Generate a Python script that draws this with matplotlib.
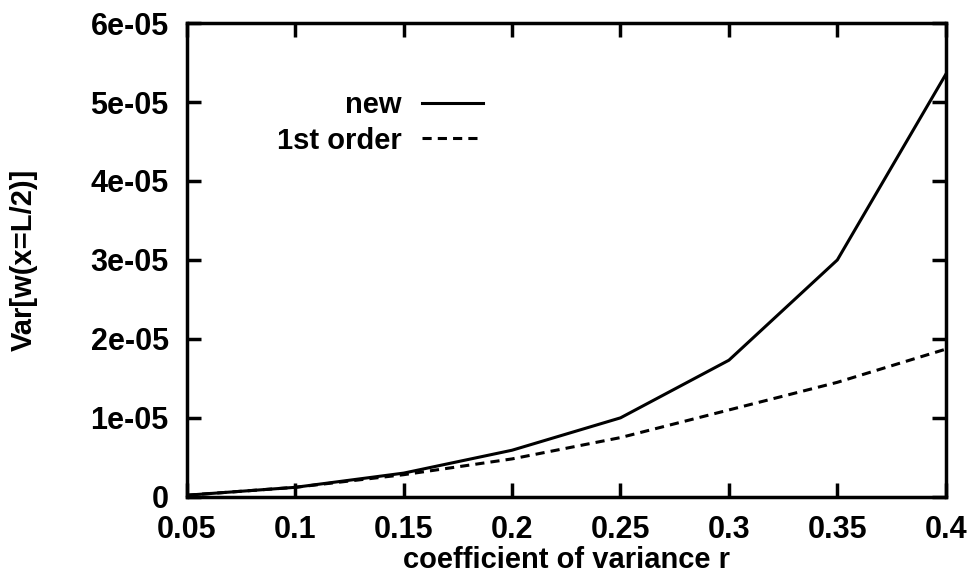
import numpy as np
import matplotlib
matplotlib.use("Agg")
import matplotlib.pyplot as plt

plt.rcParams['font.family'] = ['Liberation Sans', 'DejaVu Sans']
plt.rcParams['font.weight'] = 'bold'
plt.rcParams['axes.labelweight'] = 'bold'

# data
r = [0.05, 0.1, 0.15, 0.2, 0.25, 0.3, 0.35, 0.4]
var_new = [0.2e-6, 1.2e-6, 3.0e-6, 5.9e-6, 1.0e-5, 1.73e-5, 3.0e-5, 5.35e-5]
var_first = [0.2e-6, 1.2e-6, 2.8e-6, 4.8e-6, 7.5e-6, 1.1e-5, 1.45e-5, 1.87e-5]
yticks = [0, 1e-5, 2e-5, 3e-5, 4e-5, 5e-5, 6e-5]
ytick_labels = ["0", "1e-05", "2e-05", "3e-05", "4e-05", "5e-05", "6e-05"]
xticks = [0.05, 0.1, 0.15, 0.2, 0.25, 0.3, 0.35, 0.4]
xtick_labels = ["0.05", "0.1", "0.15", "0.2", "0.25", "0.3", "0.35", "0.4"]

fig = plt.figure(figsize=(9.73, 5.77), dpi=100)
ax = fig.add_axes([0.192, 0.139, 0.780, 0.821])

ax.plot(r, var_new, color="black", linewidth=2.2, label="new")
ax.plot(r, var_first, color="black", linewidth=2.2, linestyle=(0, (3, 2)), label="1st order")

ax.set_xlim(0.05, 0.4)
ax.set_ylim(0, 6e-5)
ax.set_xticks(xticks)
ax.set_xticklabels(xtick_labels)
ax.set_yticks(yticks)
ax.set_yticklabels(ytick_labels)

for s in ax.spines.values():
    s.set_linewidth(2.5)
ax.tick_params(direction="in", length=10, width=2.5, top=True, right=True,
               labelsize=22, pad=13)

ax.set_xlabel("coefficient of variance r", fontsize=21, labelpad=1)
ax.set_ylabel("Var[w(x=L/2)]", fontsize=21)
ax.yaxis.set_label_coords(-0.196, 0.5)

ax.legend(loc="upper right", bbox_to_anchor=(0.39, 0.856), frameon=False,
          markerfirst=False, fontsize=21, handlelength=2.1, handletextpad=0.68,
          labelspacing=0.25, borderpad=0, borderaxespad=0)

plt.savefig("out.png", dpi=100)
